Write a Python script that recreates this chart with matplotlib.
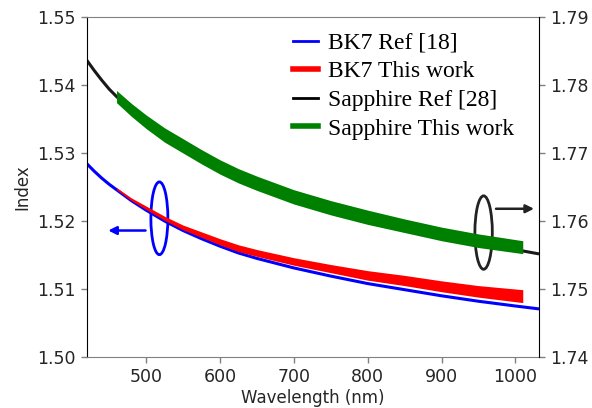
import matplotlib
matplotlib.use('Agg')
import matplotlib.pyplot as plt
from matplotlib.lines import Line2D
from matplotlib.patches import Ellipse
import numpy as np

# wavelengths (nm) and indices
wl_ref = [420, 430, 440, 450, 460, 480, 500, 525, 550, 575, 600, 625, 650,
          700, 750, 800, 850, 900, 950, 1000, 1030]
bk7_ref = [1.5284, 1.5273, 1.5263, 1.5254, 1.5246, 1.5230, 1.5216, 1.5200, 1.5186,
           1.5174, 1.5163, 1.5153, 1.5145, 1.5131, 1.5119, 1.5108, 1.5099, 1.5090,
           1.5082, 1.5075, 1.5071]
sapph_ref = [1.7836, 1.7821, 1.7807, 1.7794, 1.7783, 1.7763, 1.7746, 1.7726, 1.7709,
             1.7693, 1.7679, 1.7666, 1.7655, 1.7635, 1.7618, 1.7603, 1.7590, 1.7578,
             1.7567, 1.7558, 1.7552]

wl_work = [460, 480, 500, 525, 550, 575, 600, 625, 650, 700, 750, 800, 850, 900,
           950, 1010]
bk7_work_lo = [1.5246, 1.5230, 1.5217, 1.5201, 1.5187, 1.5176, 1.5165, 1.5155,
               1.5148, 1.5135, 1.5124, 1.5113, 1.5105, 1.5096, 1.5088, 1.5080]
bk7_work_hi = [1.5249, 1.5234, 1.5222, 1.5207, 1.5194, 1.5184, 1.5174, 1.5165,
               1.5158, 1.5146, 1.5136, 1.5127, 1.5120, 1.5112, 1.5105, 1.5099]
sapph_work_lo = [1.7774, 1.7754, 1.7736, 1.7716, 1.7700, 1.7684, 1.7669, 1.7656,
                 1.7645, 1.7625, 1.7609, 1.7595, 1.7583, 1.7571, 1.7561, 1.7552]
sapph_work_hi = [1.7792, 1.7773, 1.7756, 1.7737, 1.7721, 1.7705, 1.7690, 1.7677,
                 1.7666, 1.7646, 1.7630, 1.7616, 1.7603, 1.7591, 1.7581, 1.7571]

labels = ['BK7 Ref [18]', 'BK7 This work', 'Sapphire Ref [28]', 'Sapphire This work']
colors = ['blue', 'red', 'k', 'green']

TXT = '#262626'
GRAY = '0.5'

fig = plt.figure(figsize=(5.92, 4.08), dpi=100)
ax = fig.add_axes([87 / 592, 1 - 357 / 408, 452 / 592, 340 / 408])
ax2 = ax.twinx()

ax.plot(wl_ref, bk7_ref, color='blue', lw=2.2, zorder=2)
ax.fill_between(wl_work, bk7_work_lo, bk7_work_hi, color='red', lw=0, zorder=3)
ax2.plot(wl_ref, sapph_ref, color='k', lw=2.2, zorder=2, alpha=0.9)
ax2.fill_between(wl_work, sapph_work_lo, sapph_work_hi, color='green', lw=0, zorder=3)

# markers pointing to the axes
ax.add_patch(Ellipse((518, 1.5204), 23, 0.0107, fill=False, edgecolor='blue', lw=2))
ax.annotate('', xy=(445, 1.5186), xytext=(503, 1.5186),
            arrowprops=dict(arrowstyle='-|>', color='blue', lw=1.8, mutation_scale=12))
ax2.add_patch(Ellipse((957, 1.7583), 23.6, 0.0108, fill=False, edgecolor='#222222', lw=2))
ax2.annotate('', xy=(1029, 1.7618), xytext=(970, 1.7618),
             arrowprops=dict(arrowstyle='-|>', color='#222222', lw=1.8, mutation_scale=12))

ax.set_xlim(420, 1032)
ax.set_ylim(1.50, 1.55)
ax2.set_ylim(1.74, 1.79)
ax.set_yticks(np.arange(1.50, 1.551, 0.01))
ax2.set_yticks(np.arange(1.74, 1.791, 0.01))
ax.set_xticks([500, 600, 700, 800, 900, 1000])
ax.yaxis.set_major_formatter(matplotlib.ticker.FormatStrFormatter('%.2f'))
ax2.yaxis.set_major_formatter(matplotlib.ticker.FormatStrFormatter('%.2f'))

for a in (ax, ax2):
    a.tick_params(direction='out', length=4.5, width=1, color=GRAY,
                  labelsize=12.5, labelcolor=TXT)
ax.spines['top'].set_color(GRAY)
ax.spines['bottom'].set_color(GRAY)
ax.spines['right'].set_visible(False)
ax.spines['left'].set_color('k')
for s in ('top', 'bottom', 'left'):
    ax2.spines[s].set_visible(False)
ax2.spines['right'].set_color('k')

ax.set_xlabel('Wavelength (nm)', fontsize=12, color=TXT, labelpad=2)
ax.set_ylabel('Index', fontsize=12, color=TXT)

handles = [Line2D([], [], color=colors[0], lw=2),
           Line2D([], [], color=colors[1], lw=4),
           Line2D([], [], color=colors[2], lw=2),
           Line2D([], [], color=colors[3], lw=4)]
ax2.legend(handles, labels, loc='upper right', bbox_to_anchor=(0.946, 0.955),
           frameon=False, borderpad=0, borderaxespad=0, handlelength=1.05,
           handletextpad=0.45, labelspacing=0.3,
           prop={'family': 'Liberation Serif', 'size': 17})

fig.savefig('out.png', dpi=100)
